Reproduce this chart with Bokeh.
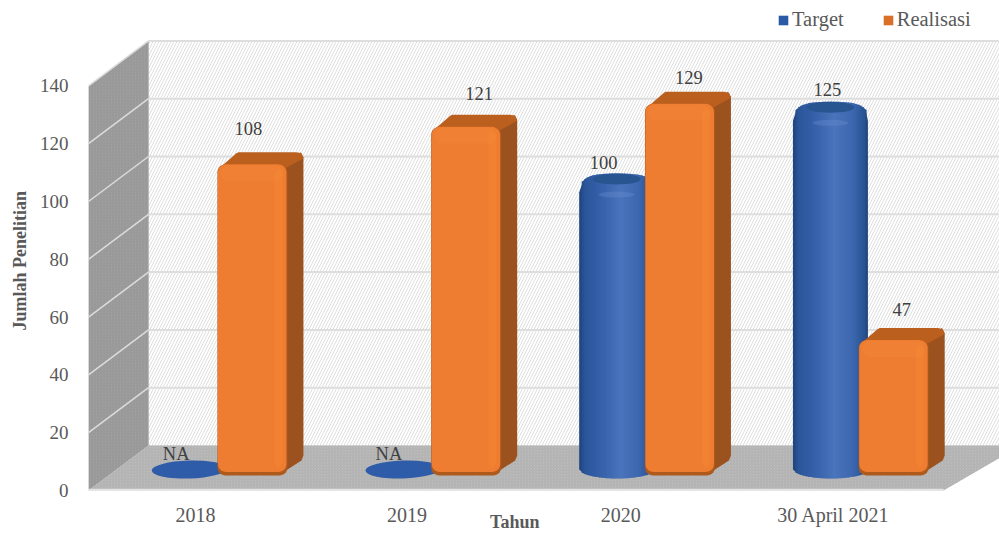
import math
from bokeh.plotting import figure
from bokeh.models import Range1d, FixedTicker, Legend, LegendItem, ColumnDataSource, Title
from bokeh.core.properties import value
from bokeh.embed import file_html
from bokeh.resources import INLINE

years = ["2018", "2019", "2020", "30 April 2021"]
target = [None, None, 100, 125]
realisasi = [108, 121, 129, 47]
y_ticks = [0, 20, 40, 60, 80, 100, 120, 140]
series_names = ["Target", "Realisasi"]
axis_x = "Tahun"
axis_y = "Jumlah Penelitian"
na_text = "NA"

# one category = 213.75 px, one y unit = 2.89 px
PX = 1 / 213.75
PY = 1 / 2.89
DEPTH_X, DEPTH_Y = 60 * PX, 45 * PY
FONT = "Liberation Serif"
GREY = "#595959"
FW, FH = 911, 490

p = figure(width=999, height=534, output_backend="svg", toolbar_location=None,
           x_range=Range1d(0, FW * PX), y_range=Range1d(0, FH * PY),
           min_border_left=88, min_border_right=0, min_border_top=0, min_border_bottom=44,
           outline_line_color=None, background_fill_color="white", border_fill_color="white")
p.grid.visible = False

for ax in (p.xaxis[0], p.yaxis[0]):
    ax.axis_line_color = None
    ax.major_tick_line_color = None
    ax.minor_tick_line_color = None
    ax.major_tick_out = 0
    ax.major_tick_in = 0
    ax.major_label_text_font = FONT
    ax.major_label_text_color = GREY
p.yaxis[0].major_label_text_font_size = "19px"
p.xaxis[0].major_label_text_font_size = "20px"
p.yaxis[0].ticker = FixedTicker(ticks=y_ticks)
p.yaxis[0].major_label_standoff = 20
x_tick_pos = [0.5, 1.49, 2.49, 3.485]
p.xaxis[0].ticker = FixedTicker(ticks=x_tick_pos)
p.xaxis[0].major_label_overrides = {t: s for t, s in zip(x_tick_pos, years)}
p.xaxis[0].major_label_standoff = 13
# non-breaking spaces keep the label left of the frame's centre, where the reference has it
p.xaxis[0].axis_label = axis_x + "\u00a0" * 13
p.xaxis[0].axis_label_standoff = -17
p.xaxis[0].axis_label_text_font = FONT
p.xaxis[0].axis_label_text_font_style = "bold"
p.xaxis[0].axis_label_text_font_size = "18px"
p.xaxis[0].axis_label_text_color = GREY

p.add_layout(Title(text=axis_y, align="left", offset=490 - 255 - 75, standoff=14, text_font=FONT,
                   text_font_style="bold", text_font_size="18px", text_color=GREY), "left")

top_v = y_ticks[-1]
x_end = FW * PX + 0.1
# walls
p.patch([DEPTH_X, x_end, x_end, DEPTH_X],
        [DEPTH_Y, DEPTH_Y, DEPTH_Y + top_v, DEPTH_Y + top_v],
        fill_color="white", line_color=None,
        hatch_pattern="right_diagonal_line", hatch_color="#dfdfdf", hatch_scale=6, hatch_weight=1)
p.patch([0, DEPTH_X, DEPTH_X, 0], [0, DEPTH_Y, DEPTH_Y + top_v, top_v],
        fill_color="#a0a0a0", line_color=None,
        hatch_pattern="right_diagonal_line", hatch_color="#969696", hatch_scale=3, hatch_weight=1)
p.patch([0, DEPTH_X, x_end, 4], [0, DEPTH_Y, DEPTH_Y, 0],
        fill_color="#bcbcbc", line_color=None,
        hatch_pattern="right_diagonal_line", hatch_color="#b0b0b0", hatch_scale=3, hatch_weight=1)
# grid
for v in y_ticks[1:]:
    p.line([0, DEPTH_X], [v, v + DEPTH_Y], line_color="#dcdcdc", line_width=1.5)
    p.line([DEPTH_X, x_end], [v + DEPTH_Y, v + DEPTH_Y], line_color="#dedede", line_width=2)
p.line([DEPTH_X, x_end], [DEPTH_Y + top_v, DEPTH_Y + top_v], line_color="#dedede", line_width=2)
p.line([0, 4], [0.3, 0.3], line_color="#e4e4e4", line_width=2)


def lerp_color(stops, t):
    for (t0, c0), (t1, c1) in zip(stops, stops[1:]):
        if t <= t1:
            f = (t - t0) / (t1 - t0)
            a = [int(c0[i:i + 2], 16) for i in (1, 3, 5)]
            b = [int(c1[i:i + 2], 16) for i in (1, 3, 5)]
            return "#%02x%02x%02x" % tuple(round(x + (y - x) * f) for x, y in zip(a, b))
    return stops[-1][1]


BLUE_STOPS = [(-1, "#1c4279"), (-0.86, "#2a5599"), (-0.3, "#3a65ae"), (0.1, "#4a74bb"),
              (0.6, "#3c67af"), (0.9, "#2a5394"), (1, "#1f4478")]
# blue cylinders
blue_cx = 0.471
blue_half = 37.5 * PX
blue_base = 21 * PY
blue_ry = 9 * PY
PERSP = 0.997
N = 30
for i, t_val in enumerate(target):
    cx = i + blue_cx
    if t_val is None:
        p.ellipse([cx], [blue_base], width=2 * blue_half, height=2 * blue_ry, angle=0.03,
                  fill_color="#2f5ca8", line_color=None)
        continue
    top = blue_base + t_val * 0.993
    xs, ys, cols = [], [], []
    for k in range(N):
        t0 = -1 + 2 * k / N
        t1 = -1 + 2 * (k + 1) / N
        tm = (t0 + t1) / 2
        x0, x1 = cx + t0 * blue_half, cx + t1 * blue_half
        b0 = blue_base - blue_ry * math.sqrt(1 - t0 * t0)
        b1 = blue_base - blue_ry * math.sqrt(1 - t1 * t1)
        up0 = top - 10 * PY + 19 * PY * (1 - abs(t0) ** 3) ** (1 / 3)
        up1 = top - 10 * PY + 19 * PY * (1 - abs(t1) ** 3) ** (1 / 3)
        xr = min(x1 + 1.2 * PX, cx + blue_half)
        xs.append([x0, xr, xr, x0])
        ys.append([b0, b1, up1, up0])
        cols.append(lerp_color(BLUE_STOPS, tm))
    p.patches(xs, ys, fill_color=cols, line_color=None)
    p.ellipse([cx], [top + 3.5 * PY], width=48 * PX, height=11 * PY,
              fill_color="#28558f", line_color=None)
    p.ellipse([cx], [top - 12 * PY], width=36 * PX, height=6 * PY,
              fill_color="#6a90d0", fill_alpha=0.35, line_color=None)

# orange bars
or_cx = 0.767
or_half = 35 * PX
or_base = 15 * PY
SD_X, SD_Y = 16 * PX, 12 * PY
R_X, R_Y = 8 * PX, 8 * PY


def rounded(x0, x1, y0, y1, n=5):
    xs, ys = [], []
    for cx_, cy_, a0 in ((x1 - R_X, y1 - R_Y, 0), (x0 + R_X, y1 - R_Y, 90),
                         (x0 + R_X, y0 + R_Y, 180), (x1 - R_X, y0 + R_Y, 270)):
        for j in range(n + 1):
            a = math.radians(a0 + 90 * j / n)
            xs.append(cx_ + R_X * math.cos(a))
            ys.append(cy_ + R_Y * math.sin(a))
    return xs, ys


for i, r_val in enumerate(realisasi):
    cx = i + or_cx
    x0, x1 = cx - or_half, cx + or_half
    top = or_base + r_val * PERSP
    # side
    p.patch([x1 - 2 * PX, x1 + SD_X - 3 * PX, x1 + SD_X, x1 + SD_X, x1 + SD_X - 2 * PX, x1 - 3 * PX],
            [top - 3 * PY, top + SD_Y, top + SD_Y - 5 * PY, or_base + SD_Y + 8 * PY, or_base + SD_Y + 3 * PY, or_base + 4 * PY],
            fill_color="#9c521f", line_color=None)
    # top
    p.patch([x0 + 4 * PX, x0 + SD_X + 3 * PX, x0 + SD_X + 5 * PX, x1 + SD_X - 7 * PX, x1 + SD_X - 2 * PX, x1 + SD_X, x1 - 2 * PX],
            [top - 2 * PY, top + SD_Y - 1 * PY, top + SD_Y, top + SD_Y, top + SD_Y - 1 * PY, top + SD_Y - 6 * PY, top - 4 * PY],
            fill_color="#bb5f1e", line_color=None)
    # front: dark rim, main face, soft bands
    fx, fy = rounded(x0, x1, or_base, top)
    p.patch(fx, fy, fill_color="#ad5a1c", line_color=None)
    fx, fy = rounded(x0 + 0.5 * PX, x1 - 1 * PX, or_base + 3.5 * PY, top)
    p.patch(fx, fy, fill_color="#ee7d31", line_color=None)
    fx, fy = rounded(x1 - 13 * PX, x1 - 5 * PX, or_base + 7 * PY, top - 3 * PY)
    p.patch(fx, fy, fill_color="#f58732", fill_alpha=0.5, line_color=None)
    fx, fy = rounded(x0 + 3 * PX, x1 - 4 * PX, top - 17 * PY, top - 1 * PY)
    p.patch(fx, fy, fill_color="#f48b40", fill_alpha=0.2, line_color=None)

# data labels
lab_x = [i + blue_cx for i in range(len(years))] + [i + or_cx for i in range(len(years))]
lab_y, lab_t = [], []
for v in target:
    lab_y.append(blue_base + (v or 0) * PERSP + (blue_ry if v else 0))
    lab_t.append(str(v) if v is not None else na_text)
for v in realisasi:
    lab_y.append(or_base + v * PERSP)
    lab_t.append(str(v))
lab_src = ColumnDataSource(dict(
    x=lab_x, y=lab_y, t=lab_t,
    dx=[-13, -14, -13, -3, -4, 13, 9, 8],
    dy=[-16, -16, -10, -11, -36, -33, -26, -31]))
p.text("x", "y", text="t", source=lab_src, x_offset="dx", y_offset="dy",
       text_align="center", text_baseline="middle", text_color="#404040",
       text_font=value(FONT), text_font_size="18.5px")

# legend
nan = float("nan")
rb = p.quad(left=[nan], right=[nan], bottom=[nan], top=[nan], fill_color="#2a5aa5", line_color=None)
ro = p.quad(left=[nan], right=[nan], bottom=[nan], top=[nan], fill_color="#d9702a", line_color=None)
leg = Legend(items=[LegendItem(label=series_names[0], renderers=[rb]),
                    LegendItem(label=series_names[1], renderers=[ro])],
             location=(689, 459), orientation="horizontal", border_line_color=None,
             background_fill_alpha=0, margin=0, padding=0, spacing=38,
             glyph_width=12, glyph_height=12, label_standoff=3,
             label_text_font=FONT, label_text_font_size="20.5px", label_text_color=GREY)
p.add_layout(leg)

open("out.html", "w").write(file_html(p, INLINE))
